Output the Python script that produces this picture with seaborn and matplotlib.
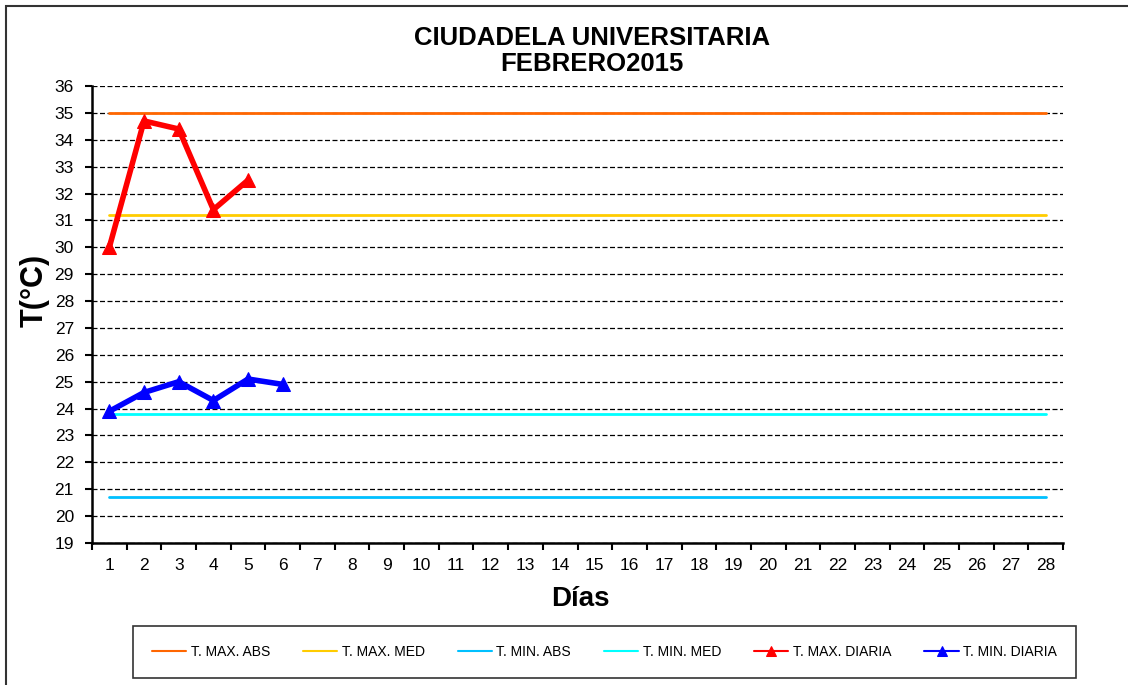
import numpy as np
import matplotlib
matplotlib.use("Agg")
import matplotlib.pyplot as plt
from matplotlib.patches import Rectangle
from matplotlib.ticker import MultipleLocator, FixedLocator
import seaborn as sns

# Data
days = np.arange(1, 29)
t_max_abs = 35.0
t_max_med = 31.2
t_min_abs = 20.7
t_min_med = 23.8
t_max_daily = [30.0, 34.7, 34.4, 31.4, 32.5]
t_min_daily = [23.9, 24.6, 25.0, 24.3, 25.1, 24.9]

sns.set_style("white")
plt.rcParams['font.family'] = ['Liberation Sans', 'DejaVu Sans']
plt.rcParams['text.color'] = 'black'
plt.rcParams['axes.labelcolor'] = 'black'

fig = plt.figure(figsize=(11.28, 6.85), dpi=100)
ax = fig.add_axes([92/1128, 1-543/685, (1063-92)/1128, (543-86)/685])

# reference lines (constant over the month)
refs = [
    (t_max_abs, '#FF6600', 'T. MAX. ABS'),
    (t_max_med, '#FFCC00', 'T. MAX. MED'),
    (t_min_abs, '#00C0FF', 'T. MIN. ABS'),
    (t_min_med, '#00FFFF', 'T. MIN. MED'),
]
for val, col, lab in refs:
    sns.lineplot(x=days, y=np.full(len(days), val), color=col, lw=2, label=lab, ax=ax, zorder=2)

sns.lineplot(x=days[:len(t_max_daily)], y=t_max_daily, color='#FF0000', lw=4,
             marker='^', markersize=10, markeredgecolor='#FF0000',
             label='T. MAX. DIARIA', ax=ax, zorder=3)
sns.lineplot(x=days[:len(t_min_daily)], y=t_min_daily, color='#0000FF', lw=4,
             marker='^', markersize=10, markeredgecolor='#0000FF',
             label='T. MIN. DIARIA', ax=ax, zorder=3)

ax.set_xlim(0.5, 28.5)
ax.set_ylim(19, 36)
ax.yaxis.set_major_locator(MultipleLocator(1))
ax.xaxis.set_major_locator(FixedLocator(days))
ax.xaxis.set_minor_locator(FixedLocator(np.arange(0.5, 29, 1)))
ax.set_xticklabels([str(d) for d in days])

ax.yaxis.grid(True, linestyle=(0, (4, 2)), color='black', lw=0.9)
ax.set_axisbelow(True)

for s in ['top', 'right']:
    ax.spines[s].set_visible(False)
for s in ['left', 'bottom']:
    ax.spines[s].set_color('black')
    ax.spines[s].set_linewidth(1.8)

ax.tick_params(axis='y', which='major', direction='out', length=5, width=1.5,
               pad=8, labelsize=12.5, left=True, colors='black')
ax.tick_params(axis='x', which='major', length=0, pad=11, labelsize=12.5, colors='black')
ax.tick_params(axis='x', which='minor', direction='out', length=5, width=1.5,
               bottom=True, colors='black')

ax.set_xlabel('Días', fontsize=20, fontweight='bold', va='center')
ax.xaxis.set_label_coords(0.5026, -0.1225)
ax.set_ylabel('T(°C)', fontsize=22, fontweight='bold', va='center', ha='center')
ax.yaxis.set_label_coords(-0.0587, 0.5536)

fig.suptitle('CIUDADELA UNIVERSITARIA\nFEBRERO2015', x=592/1128, y=1-51/685,
             va='center', fontsize=18.5, fontweight='bold', color='black',
             linespacing=1.15)

handles, labels = ax.get_legend_handles_labels()
ax.legend_.remove()
leg = fig.legend(handles, labels, ncol=6, mode='expand', loc='center',
                 bbox_to_anchor=(133/1128, 9/685, (1076-133)/1128, 48/685),
                 fontsize=10, frameon=True, fancybox=False, edgecolor='black',
                 handlelength=2.45, handletextpad=0.35, borderaxespad=0,
                 borderpad=1.35, markerscale=0.65)
leg.get_frame().set_linewidth(1.2)
for h in leg.legend_handles:
    h.set_linewidth(1.5)

# outer chart frame
fig.patches.append(Rectangle((6/1128, -0.05), 1.1, 1-6/685+0.05, transform=fig.transFigure,
                             fill=False, edgecolor='#333333', lw=1.5))

fig.savefig('out.png', dpi=100)
